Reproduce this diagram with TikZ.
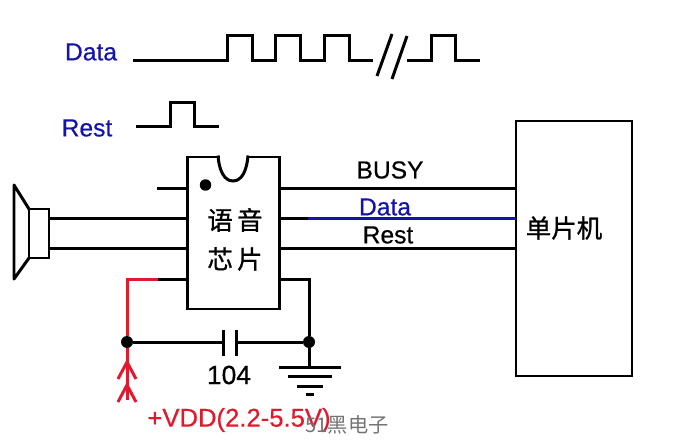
\documentclass[tikz,border=0pt]{standalone}
\usepackage{fontspec}
\setmainfont[FakeBold=.5]{Liberation Sans}
\newfontfamily\cjk[FakeBold=1]{Noto Sans CJK SC}
\newfontfamily\cjkmark{Noto Sans CJK SC}
\definecolor{sigblue}{RGB}{20,20,170}
\definecolor{vddred}{RGB}{225,25,45}
\tikzset{
  wire/.style={line width=.06cm, line join=miter},
  redwire/.style={wire, draw=vddred},
  bluewire/.style={wire, draw=sigblue},
  box/.style={draw, line width=.052cm, anchor=north west, inner sep=0pt, outer sep=0pt},
  junction/.style={circle, fill=black, inner sep=0pt, minimum size=.24cm},
  lbl/.style={inner sep=0pt, font=\fontsize{14}{14}\selectfont},
  cjklbl/.style={inner sep=0pt, font=\cjk\fontsize{14.5}{14.5}\selectfont},
}
\begin{document}
\begin{tikzpicture}[x=.02cm, y=-.02cm]
      \useasboundingbox (0,0) rectangle (692,442);
      \node[lbl, text=sigblue] (datasig) at (91,52) {Data};
      \draw[wire] (133,60.4) -- (227,60.4) -- (227,36) -- (252,36) -- (252,60.4) -- (275,60.4) -- (275,36) -- (300,36) -- (300,60.4) -- (324,60.4) -- (324,36) -- (349,36) -- (349,60.4) -- (373,60.4);
      \draw[wire] (377,76) -- (392,34);
      \draw[wire] (392,79) -- (407,36);
      \draw[wire] (407,60.4) -- (431,60.4) -- (431,36) -- (455,36) -- (455,60.4) -- (480,60.4);
      \node[lbl, text=sigblue] (restsig) at (87,128) {Rest};
      \draw[wire] (136,127) -- (170,127) -- (170,103) -- (194,103) -- (194,127) -- (219,127);

      \node[box, minimum width=1.84cm, minimum height=3.04cm] (chip) at (187.5,157) {};
      \draw[white, line width=.08cm] (219.5,157) -- (246.5,157);
      \draw[wire] (218,155.5) .. controls (219,170) and (224,181) .. (233,181) .. controls (242,181) and (247,170) .. (248,155.5);
      \node[junction, minimum size=.23cm] (pinone) at (205.5,185) {};
      \node[cjklbl] (chipa) at (235,220) {语\,音};
      \node[cjklbl] (chipb) at (235,259) {芯\,片};
      \node[box, minimum width=2.32cm, minimum height=5.1cm] (mcu) at (516,121) {};
      \node[cjklbl] (mcutext) at (564,228) {单片机};

      \draw[wire, line join=round] (29,209) -- (14,185) -- (14,279) -- (29,258);
      \node[box, minimum width=.4cm, minimum height=.98cm] (spk) at (29,209) {};
      \coordinate (spka) at (49,218.4);
      \coordinate (spkb) at (49,248.4);
      \coordinate (stub) at (157,188.4);
      \coordinate (bend) at (127,279);
      \coordinate (redend) at (158,279);
      \coordinate (blueend) at (308,218.4);
      \coordinate (gndbend) at (309,279);

      \draw[wire] (stub) -- (chip.west|-stub);
      \draw[wire] (spka) -- (chip.west|-spka);
      \draw[wire] (spkb) -- (chip.west|-spkb);
      \draw[wire] (redend) -- (chip.west|-redend);
      \draw[wire] (chip.east|-stub) -- (mcu.west|-stub);
      \draw[wire] (chip.east|-spka) -- (blueend);
      \draw[bluewire] (blueend) -- (mcu.west|-blueend);
      \draw[wire] (chip.east|-spkb) -- (mcu.west|-spkb);

      \node[junction] (nodevdd) at (127,342) {};
      \node[junction] (nodegnd) at (309,342) {};
      \draw[redwire] (redend) -- (bend) -- (nodevdd);
      \draw[wire] (chip.east|-gndbend) -- (gndbend) -- (nodegnd);

      \coordinate (capl) at (223,342);
      \coordinate (capr) at (236,342);
      \draw[wire] (nodevdd) -- (capl);
      \draw[wire] (capr) -- (nodegnd);
      \draw[wire] (223,330) -- (223,356);
      \draw[wire] (236,330) -- (236,356);
      \node[lbl, font=\fontsize{15}{15}\selectfont] (capval) at (229,375) {104};

      \coordinate (vddend) at (127,400);
      \draw[redwire] (nodevdd) -- (vddend);
      \draw[redwire] (118,379) -- (127,362) -- (136,379);
      \draw[redwire] (118,402) -- (127,385) -- (136,402);

      \coordinate (gndtop) at (309,367);
      \draw[wire] (nodegnd) -- (gndtop);
      \draw[wire] (279,367) -- (341,367);
      \draw[wire] (288,376) -- (332,376);
      \draw[wire] (297,386) -- (323,386);
      \draw[wire] (306,394) -- (314,394);

      \node[lbl] (busy) at (390,170) {BUSY};
      \node[lbl, text=sigblue] (data) at (385,207) {Data};
      \node[lbl] (rest) at (388,235) {Rest};
      \node[lbl, font=\fontsize{14.6}{14.6}\selectfont, text=vddred] (vdd) at (239,420) {+VDD(2.2-5.5V)};
      \node[inner sep=0pt, text=black!55, font=\cjkmark\fontsize{11.5}{11.5}\selectfont] (mark) at (347,425) {51黑电子};
    \end{tikzpicture}
\end{document}
